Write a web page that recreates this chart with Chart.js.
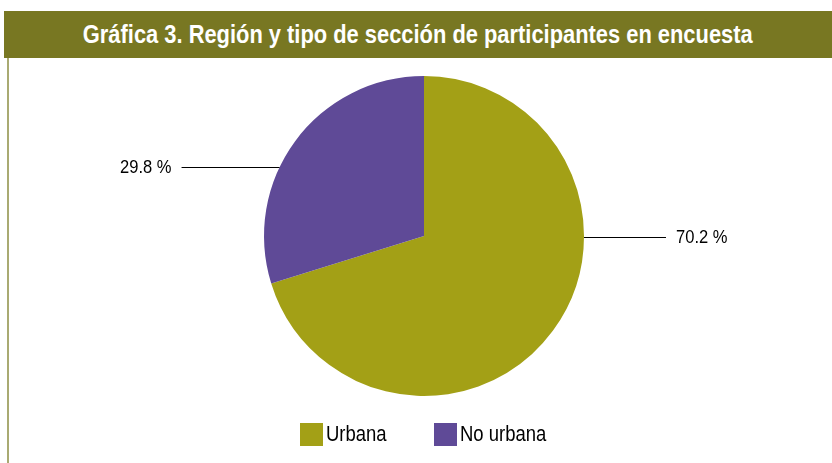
<!DOCTYPE html>
<html>
<head>
<meta charset="utf-8">
<script src="https://cdn.jsdelivr.net/npm/chart.js@4"></script>
<style>
    html, body { margin: 0; padding: 0; background: #fff; }
    body { width: 832px; height: 463px; position: relative; overflow: hidden; }
    #titre {
        position: absolute; left: 4px; top: 11px; right: 0; height: 47px;
        background: #787722; color: #fff;
        font: bold 25px "Liberation Sans", Arial, sans-serif;
        line-height: 47px; text-align: center;
    }
    #titre span { display: inline-block; transform: scaleX(0.875); white-space: nowrap; }
    #bordure { position: absolute; left: 7px; top: 58px; width: 2px; bottom: 0; background: #a9aa72; }
    #zone { position: absolute; left: 9px; top: 58px; width: 823px; height: 405px; }
    #legende {
        position: absolute; top: 422px; left: 0; width: 832px; height: 24px;
        font: 22px "Liberation Sans", Arial, sans-serif; color: #000;
    }
    .item { position: absolute; top: 0; white-space: nowrap; line-height: 24px; }
    .carre { position: absolute; left: 0; top: 1px; width: 23px; height: 23px; }
    .texte { position: absolute; left: 26px; top: 0; display: inline-block; transform: scaleX(0.84); transform-origin: left center; }
</style>
</head>
<body>
<div id="titre"><span>Gráfica 3. Región y tipo de sección de participantes en encuesta</span></div>
<div id="bordure"></div>
<div id="zone"><canvas id="camembert"></canvas></div>
<div id="legende"></div>
<script>
// Données du graphique
const categories = ["Urbana", "No urbana"];
const pourcentages = [70.2, 29.8];
const etiquettes = ["70.2 %", "29.8 %"];
const couleurs = ["#a3a016", "#5f4a97"];

// Étiquettes avec lignes de rappel (style Excel)
const etiquettesExternes = {
    id: "etiquettesExternes",
    afterDatasetsDraw(chart, args, opts) {
        const ctx = chart.ctx;
        const meta = chart.getDatasetMeta(0);
        ctx.save();
        ctx.strokeStyle = "#000";
        ctx.lineWidth = 1;
        ctx.fillStyle = "#000";
        ctx.font = opts.police;
        ctx.textBaseline = "middle";
        meta.data.forEach((arc, i) => {
            const r = arc.outerRadius;
            const dy = opts.decalages[i] * r;
            const y = Math.round(arc.y + dy) + 0.5;
            const dx = Math.sqrt(r * r - dy * dy);
            const cote = opts.cotes[i];
            const xDebut = arc.x + cote * dx;
            const xFin = xDebut + cote * opts.longueurs[i];
            ctx.beginPath();
            ctx.moveTo(xDebut, y);
            ctx.lineTo(xFin, y);
            ctx.stroke();
            // texte un peu condensé comme l'original
            ctx.save();
            ctx.translate(xFin + cote * 10, y);
            ctx.scale(opts.condense, 1);
            ctx.textAlign = cote > 0 ? "left" : "right";
            ctx.fillText(etiquettes[i], 0, 0);
            ctx.restore();
        });
        ctx.restore();
    }
};

new Chart(document.getElementById("camembert").getContext("2d"), {
    type: "pie",
    data: {
        labels: categories,
        datasets: [{
            data: pourcentages,
            backgroundColor: couleurs,
            borderWidth: 0
        }]
    },
    options: {
        responsive: true,
        maintainAspectRatio: false,
        animation: false,
        layout: { padding: { top: 18, bottom: 67, left: 255, right: 248 } },
        plugins: {
            legend: { display: false },
            tooltip: { enabled: false },
            etiquettesExternes: {
                police: '19px "Liberation Sans", Arial, sans-serif',
                condense: 0.87,
                decalages: [0.006, -0.43],
                cotes: [1, -1],
                longueurs: [82, 98]
            }
        }
    },
    plugins: [etiquettesExternes]
});

// Légende HTML
const positionsLegende = [300, 434];
const legende = document.getElementById("legende");
categories.forEach((nom, i) => {
    const item = document.createElement("span");
    item.className = "item";
    item.style.left = positionsLegende[i] + "px";
    item.innerHTML = `<span class="carre" style="background:${couleurs[i]}"></span><span class="texte">${nom}</span>`;
    legende.appendChild(item);
});
</script>
</body>
</html>
